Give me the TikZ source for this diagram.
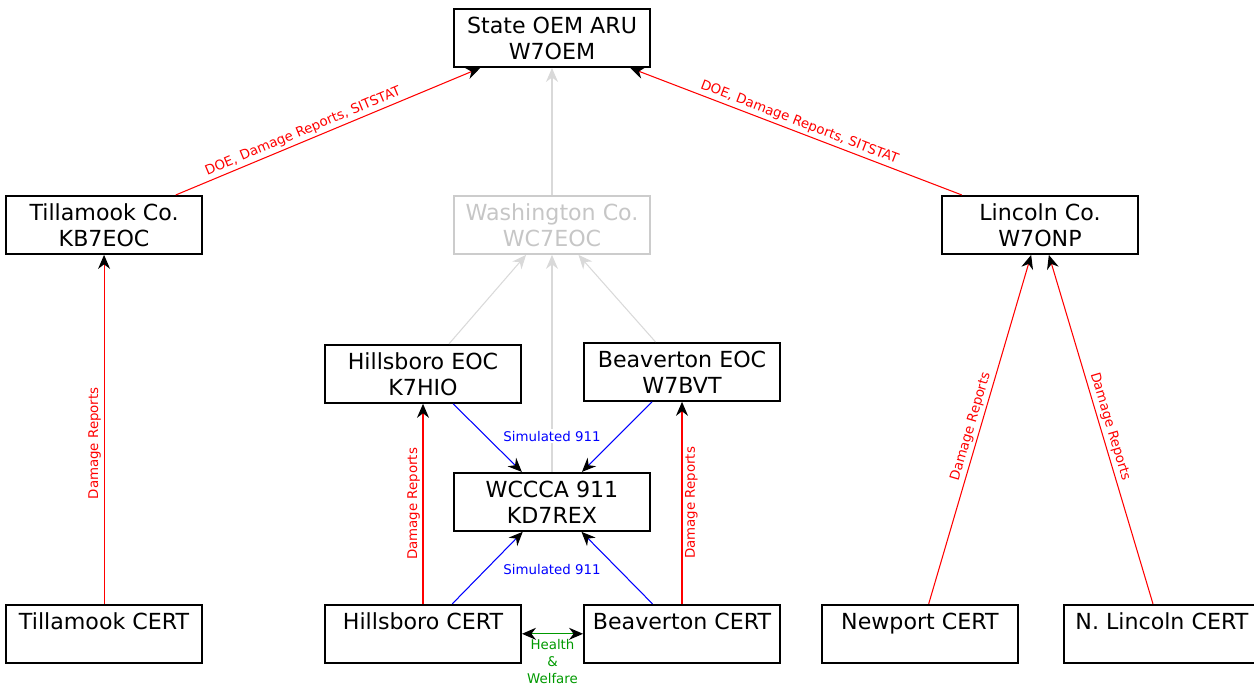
\documentclass[tikz,border=0pt]{standalone}
\usepackage{fontspec}
\setmainfont{DejaVu Sans}
\usetikzlibrary{arrows.meta,
                positioning,
                quotes}
\newcommand\boxfont{\fontsize{12.6}{14.8}\selectfont}
\newcommand\lblfont{\fontsize{7.6}{9.6}\selectfont}

\begin{document}
\begin{tikzpicture}[
node distance = 8mm and 16mm,
every edge quotes/.append style = {font=\lblfont, sloped, inner sep=1.5pt},
     N/.style = {draw, line width=1.1pt, minimum width=3.92cm, minimum height=1.16cm,
                 inner sep=0pt, align=center, font=\boxfont},
     W/.style = {N, draw=gray!40, text=gray!45},
     L/.style = {font=\lblfont, inner sep=1pt},
     V/.style = {allow upside down},
     G/.style = {draw=gray!30, line width=0.6pt, -{Stealth[length=2.8mm, width=2.4mm]}},
     R/.style = {red, line width=0.6pt, -{Stealth[length=2.8mm, width=2.4mm, color=black]}},
     B/.style = {blue, line width=0.6pt, -{Stealth[length=2.8mm, width=2.4mm, color=black]}},
     H/.style = {green!60!black, line width=0.6pt,
                 {Stealth[length=2.8mm, width=2.4mm, color=black]}-{Stealth[length=2.8mm, width=2.4mm, color=black]}}
                    ]
\useasboundingbox (0,0) rectangle (25.08,-13.8);
\node (state) [N] at (11.04,-0.76) {State OEM ARU\\W7OEM};
\node (wash)  [W, below=2.54cm of state] {Washington Co.\\WC7EOC};
\node (till)  [N, left=5cm of wash]      {Tillamook Co.\\KB7EOC};
\node (linc)  [N, right=5.8cm of wash]   {Lincoln Co.\\W7ONP};
\node (heoc)  [N, below=1.78cm of wash, xshift=-2.58cm] {Hillsboro EOC\\K7HIO};
\node (beoc)  [N, below=1.74cm of wash, xshift=2.6cm]   {Beaverton EOC\\W7BVT};
\node (wccca) [N, below=4.34cm of wash]  {WCCCA 911\\KD7REX};
\node (hcert) [N, below=4cm of heoc]     {Hillsboro CERT\\\mbox{}};
\node (tcert) [N] at (till |- hcert)     {Tillamook CERT\\\mbox{}};
\node (bcert) [N] at (beoc |- hcert)     {Beaverton CERT\\\mbox{}};
\node (ncert) [N, right=0.8cm of bcert]  {Newport CERT\\\mbox{}};
\node (nlcert) [N, right=0.88cm of ncert] {N. Lincoln CERT\\\mbox{}};
%
\draw[G]  (wash)  -- (state);
\draw[G]  (heoc)  -- (wash);
\draw[G]  (beoc)  -- (wash);
\draw[G]  (wccca) -- (wash);
\node (sim1) [L, text=blue, fill=white, above=0.57cm of wccca] {Simulated 911};
\node (sim2) [L, text=blue, below=0.6cm of wccca] {Simulated 911};
%
\draw[R]  (till) to ["{DOE, Damage Reports, SITSTAT}" pos=0.43] (state);
\draw[R]  (linc) to ["{DOE, Damage Reports, SITSTAT}"] (state);
\draw[R]  (tcert)  to ["Damage Reports" {pos=0.46, V}] (till);
\draw[R]  (hcert)  to ["Damage Reports" V]  (heoc);
\draw[R]  (bcert)  to ["Damage Reports"' V] (beoc);
\draw[R]  (ncert)  to ["Damage Reports"]  (linc);
\draw[R]  (nlcert) to ["Damage Reports"]  (linc);
%
\draw[B]  (heoc)  -- (wccca);
\draw[B]  (beoc)  -- (wccca);
\draw[B]  (hcert) -- (wccca);
\draw[B]  (bcert) -- (wccca);
\draw[H]  (hcert) -- (bcert) node (hw) [L, midway, below, align=center, inner sep=3pt] {Health\\\&\\Welfare};
\end{tikzpicture}
\end{document}
